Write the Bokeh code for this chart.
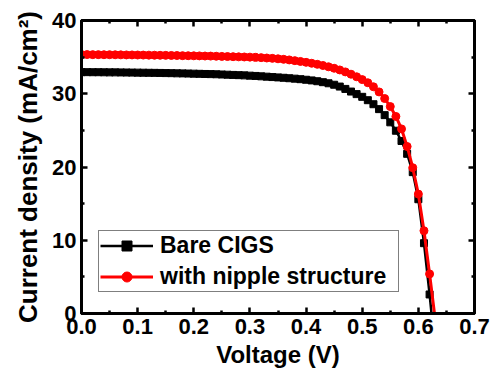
from bokeh.plotting import figure
from bokeh.models import LinearAxis, FixedTicker, Range1d, Legend, LegendItem
from bokeh.embed import file_html
from bokeh.resources import INLINE

# ---- data ----
voltage = [0.00, 0.01, 0.02, 0.03, 0.04, 0.05, 0.06, 0.07, 0.08, 0.09,
           0.10, 0.11, 0.12, 0.13, 0.14, 0.15, 0.16, 0.17, 0.18, 0.19,
           0.20, 0.21, 0.22, 0.23, 0.24, 0.25, 0.26, 0.27, 0.28, 0.29,
           0.30, 0.31, 0.32, 0.33, 0.34, 0.35, 0.36, 0.37, 0.38, 0.39,
           0.40, 0.41, 0.42, 0.43, 0.44, 0.45, 0.46, 0.47, 0.48, 0.49,
           0.50, 0.51, 0.52, 0.53, 0.54, 0.55, 0.56, 0.57, 0.58, 0.59,
           0.60, 0.61, 0.62, 0.63]

bare_cigs = [32.95, 32.95, 32.94, 32.94, 32.93, 32.92, 32.92, 32.91, 32.90, 32.89,
             32.88, 32.87, 32.86, 32.85, 32.84, 32.82, 32.81, 32.79, 32.78, 32.76,
             32.74, 32.72, 32.70, 32.68, 32.66, 32.63, 32.60, 32.57, 32.54, 32.51,
             32.47, 32.43, 32.38, 32.33, 32.28, 32.23, 32.18, 32.12, 32.06, 31.99,
             31.91, 31.82, 31.71, 31.58, 31.43, 31.23, 30.98, 30.66, 30.30, 29.95,
             29.58, 29.12, 28.57, 27.90, 27.08, 26.10, 24.95, 23.55, 21.80, 19.30,
             15.60, 9.60, 2.60, -5.00]

nipple = [35.35, 35.35, 35.34, 35.34, 35.33, 35.33, 35.32, 35.31, 35.30, 35.30,
          35.29, 35.28, 35.27, 35.26, 35.25, 35.24, 35.23, 35.22, 35.20, 35.19,
          35.18, 35.17, 35.15, 35.14, 35.12, 35.10, 35.08, 35.06, 35.04, 35.02,
          35.00, 34.97, 34.93, 34.88, 34.83, 34.77, 34.70, 34.62, 34.52, 34.41,
          34.29, 34.16, 34.02, 33.86, 33.68, 33.48, 33.25, 32.98, 32.67, 32.32,
          31.93, 31.50, 30.95, 30.25, 29.35, 28.25, 26.90, 25.20, 22.80, 19.90,
          16.30, 11.30, 5.40, -0.80]

series_names = ["Bare CIGS", "with nipple structure"]

x_ticks = [0.0, 0.1, 0.2, 0.3, 0.4, 0.5, 0.6, 0.7]
x_tick_labels = ["0.0", "0.1", "0.2", "0.3", "0.4", "0.5", "0.6", "0.7"]
x_minor = [0.05, 0.15, 0.25, 0.35, 0.45, 0.55, 0.65]
y_ticks = [0, 10, 20, 30, 40]
y_tick_labels = ["0", "10", "20", "30", "40"]
y_minor = [5, 15, 25, 35]

FONT = "Liberation Sans"

p = figure(width=492, height=379, x_range=Range1d(0, 0.7), y_range=Range1d(0, 40),
           output_backend="svg", toolbar_location=None,
           min_border_left=81, min_border_right=18, min_border_top=20, min_border_bottom=66)
p.xgrid.visible = False
p.ygrid.visible = False
p.outline_line_color = "black"
p.outline_line_width = 3
p.background_fill_color = "white"
p.border_fill_color = "white"


def style_axis(ax, labels=True):
    ax.axis_line_width = 3
    ax.axis_line_color = "black"
    ax.major_tick_in = 6
    ax.major_tick_out = 0
    ax.minor_tick_in = 3
    ax.minor_tick_out = 0
    ax.major_tick_line_width = 2.5
    ax.minor_tick_line_width = 2.5
    ax.major_tick_line_color = "black"
    ax.minor_tick_line_color = "black"
    ax.major_label_text_font = FONT
    ax.major_label_text_font_style = "bold"
    ax.major_label_text_font_size = "22px"
    ax.major_label_text_color = "black"
    ax.axis_label_text_font = FONT
    ax.axis_label_text_font_style = "bold"
    ax.axis_label_text_color = "black"
    if not labels:
        ax.major_label_standoff = 0


xa = p.xaxis[0]
xa.ticker = FixedTicker(ticks=x_ticks, minor_ticks=x_minor)
xa.major_label_overrides = dict(zip(x_ticks, x_tick_labels))
xa.axis_label = "Voltage (V)"
style_axis(xa)
xa.axis_label_text_font_size = "24px"
xa.major_label_standoff = 5
xa.axis_label_standoff = 4

ya = p.yaxis[0]
ya.ticker = FixedTicker(ticks=y_ticks, minor_ticks=y_minor)
ya.major_label_overrides = dict(zip(y_ticks, y_tick_labels))
ya.axis_label = "Current density (mA/cm²)"
style_axis(ya)
ya.axis_label_text_font_size = "26px"
ya.major_label_standoff = 5
ya.axis_label_standoff = 6

top = LinearAxis(ticker=FixedTicker(ticks=x_ticks, minor_ticks=x_minor))
style_axis(top, labels=False)
top.major_label_overrides = {t: "" for t in x_ticks}
p.add_layout(top, "above")
right = LinearAxis(ticker=FixedTicker(ticks=y_ticks, minor_ticks=y_minor))
style_axis(right, labels=False)
right.major_label_overrides = {t: "" for t in y_ticks}
p.add_layout(right, "right")

l1 = p.line(voltage, bare_cigs, line_color="black", line_width=2.5)
s1 = p.scatter(voltage, bare_cigs, marker="square", size=7, fill_color="black", line_color="black")
l2 = p.line(voltage, nipple, line_color="#ff0000", line_width=3)
s2 = p.scatter(voltage, nipple, marker="circle", size=8, fill_color="#ff0000", line_color="#ff0000")

legend = Legend(items=[LegendItem(label=series_names[0], renderers=[l1, s1]),
                       LegendItem(label=series_names[1], renderers=[l2, s2])],
                location=(17, 21))
legend.border_line_color = "black"
legend.border_line_width = 1.2
legend.background_fill_color = "white"
legend.background_fill_alpha = 1
legend.label_text_font = FONT
legend.label_text_font_style = "bold"
legend.label_text_font_size = "23px"
legend.label_text_color = "black"
legend.glyph_width = 53
legend.glyph_height = 25
legend.label_height = 25
legend.label_standoff = 7
legend.padding = 1
legend.spacing = 4
legend.margin = 0
legend.label_width = 237
p.add_layout(legend, "center")

open("out.html", "w").write(file_html(p, INLINE))
